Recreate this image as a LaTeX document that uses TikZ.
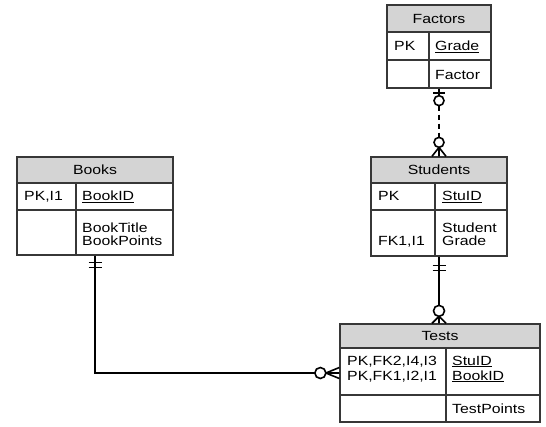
\documentclass[tikz,border=0pt]{standalone}
\usepackage{fontspec}
\setmainfont{Liberation Sans}[FakeStretch=1.19]
\usetikzlibrary{calc,fit}
\definecolor{hdr}{RGB}{212,212,212}
\definecolor{brd}{RGB}{55,55,55}
\tikzset{
  lw/.style={line width=1.3bp},
  txt/.style={inner sep=0, anchor=base west, font=\fontsize{13.3bp}{14bp}\selectfont},
  htxt/.style={inner sep=0, anchor=base, font=\fontsize{13.3bp}{14bp}\selectfont},
  conn/.style={line width=1.6bp, black},
  ring/.style={line width=1.6bp, black, fill=white},
}
% name, x1, y1, x2, y2, xdiv, yhead, yrow
\newcommand\ErBox[8]{%
  \fill[hdr] (#2,#3) rectangle (#4,#7);
  \draw[brd, lw] (#2,#7) -- (#4,#7) (#2,#8) -- (#4,#8) (#6,#7) -- (#6,#5);
  \node[draw=brd, lw, inner sep=0, fit={(#2,#3) (#4,#5)}] (#1) {};
}
\begin{document}
\begin{tikzpicture}[x=1bp, y=-1bp]
\useasboundingbox[fill=white] (0,0) rectangle (546,426);

% Factors
\ErBox{factors}{387}{5}{491}{88}{429}{32}{60}
\node[htxt] (factorsH) at (439,23) {Factors};
\node[txt] (factorsPK) at (394,50.5) {PK};
\node[txt] (factorsGrade) at (435,50.5) {\underline{Grade}};
\node[txt] (factorsFactor) at (435,79) {Factor};

% Students
\ErBox{students}{371}{157}{507}{256}{435}{183}{210}
\node[htxt] (studentsH) at (439,174.5) {Students};
\node[txt] (studentsPK) at (378,200.5) {PK};
\node[txt] (studentsID) at (442,200.5) {\underline{StuID}};
\node[txt] (studentsS) at (442,232) {Student};
\node[txt] (studentsG) at (442,245) {Grade};
\node[txt] (studentsFK) at (378,245) {FK1,I1};

% Books
\ErBox{books}{17}{157}{173}{255}{76}{183}{210}
\node[htxt] (booksH) at (95,174.5) {Books};
\node[txt] (booksPK) at (24,200.5) {PK,I1};
\node[txt] (booksID) at (82,200.5) {\underline{BookID}};
\node[txt] (booksT) at (82,232) {BookTitle};
\node[txt] (booksP) at (82,245) {BookPoints};

% Tests
\ErBox{tests}{340}{324}{540}{422}{446}{348}{395}
\node[htxt] (testsH) at (440,340.5) {Tests};
\node[txt] (testsK1) at (347,365) {PK,FK2,I4,I3};
\node[txt] (testsK2) at (347,380) {PK,FK1,I2,I1};
\node[txt] (testsS) at (452,365) {\underline{StuID}};
\node[txt] (testsB) at (452,380) {\underline{BookID}};
\node[txt] (testsP) at (452,413) {TestPoints};

% Factors -> Students (zero-or-one to zero-or-many, dashed)
\coordinate (fs) at (factors.south);
\coordinate (sn) at (fs |- students.north);
\draw[conn] (fs) -- ($(fs)+(0,7)$);
\draw[conn] ($(fs)+(-6,4.5)$) -- ($(fs)+(6,4.5)$);
\draw[ring] ($(fs)+(0,12)$) circle (5);
\draw[conn, dash pattern=on 5bp off 4bp] ($(fs)+(0,17)$) -- ($(sn)+(0,-19)$);
\draw[ring] ($(sn)+(0,-14)$) circle (5);
\draw[conn] ($(sn)+(0,-9)$) -- ($(sn)+(-7,0)$)
            ($(sn)+(0,-9)$) -- (sn)
            ($(sn)+(0,-9)$) -- ($(sn)+(7,0)$);

% Students -> Tests
\coordinate (ss) at (students.south);
\coordinate (tn) at (ss |- tests.north);
\draw[conn] (ss) -- ($(tn)+(0,-18)$);
\draw[conn] ($(ss)+(-6.5,9)$) -- ($(ss)+(6.5,9)$)
            ($(ss)+(-6.5,14)$) -- ($(ss)+(6.5,14)$);
\draw[ring] ($(tn)+(0,-12.5)$) circle (5.5);
\draw[conn] ($(tn)+(0,-7)$) -- ($(tn)+(-7,0)$)
            ($(tn)+(0,-7)$) -- (tn)
            ($(tn)+(0,-7)$) -- ($(tn)+(7,0)$);

% Books -> Tests
\coordinate (bs) at (books.south);
\coordinate (tw) at (tests.west);
\draw[conn] (bs) |- ($(tw)+(-24.5,0)$);
\draw[conn] ($(bs)+(-6.5,7)$) -- ($(bs)+(6.5,7)$)
            ($(bs)+(-6.5,12)$) -- ($(bs)+(6.5,12)$);
\draw[ring] ($(tw)+(-19,0)$) circle (5.5);
\draw[conn] ($(tw)+(-13.5,0)$) -- ($(tw)+(0,-5.5)$)
            ($(tw)+(-13.5,0)$) -- (tw)
            ($(tw)+(-13.5,0)$) -- ($(tw)+(0,5.5)$);
\end{tikzpicture}
\end{document}
